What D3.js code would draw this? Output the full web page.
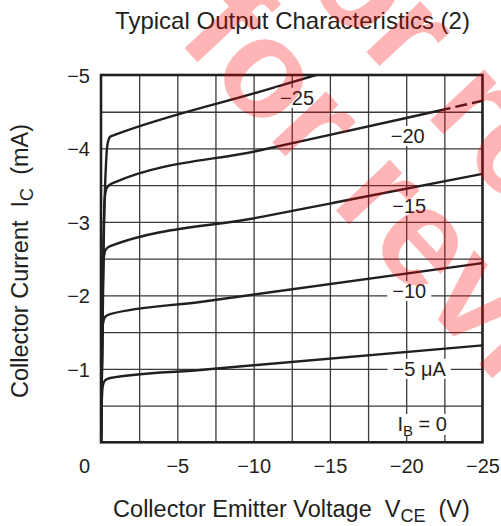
<!DOCTYPE html>
<html>
<head>
<meta charset="utf-8">
<script src="https://cdn.jsdelivr.net/npm/d3@7"></script>
<style>
  html, body { margin: 0; padding: 0; background: #fff; }
  svg { display: block; }
  text { font-family: "Liberation Sans", Arial, Helvetica, sans-serif; fill: #231f20; }
</style>
</head>
<body>
<svg id="chart" width="501" height="526"></svg>
<script>
// ---- data ----
const titleText = "Typical Output Characteristics (2)";
const xTicks = [0, -5, -10, -15, -20, -25];
const yTicks = [-1, -2, -3, -4, -5];
const xGrid = [-2.5, -5, -7.5, -10, -12.5, -15, -17.5, -20, -22.5];
const yGrid = [-0.5, -1, -1.5, -2, -2.5, -3, -3.5, -4, -4.5];

// collector-emitter voltage (V) / collector current (mA) per base current
const ib5V  = [0, -0.06, -0.13, -0.28, -0.6, -6.5, -25];
const ib5I  = [0, -0.6, -0.78, -0.846, -0.875, -0.985, -1.32];
const ib10V = [0, -0.08, -0.12, -0.28, -0.6, -6.5, -25];
const ib10I = [0, -1.3, -1.6, -1.71, -1.745, -1.91, -2.44];
const ib15V = [0, -0.12, -0.18, -0.3, -0.6, -10.43, -15, -25];
const ib15I = [0, -2.2, -2.5, -2.62, -2.67, -3.065, -3.25, -3.655];
const ib20V = [0, -0.15, -0.24, -0.35, -0.6, -0.85, -10.43, -20, -22.9];
const ib20I = [0, -2.6, -3.3, -3.45, -3.51, -3.535, -3.975, -4.415, -4.55];
const ib20DashV = [-22.9, -25];
const ib20DashI = [-4.55, -4.65];
const ib25V = [0, -0.2, -0.33, -0.42, -0.6, -0.85, -10.43, -14.1];
const ib25I = [0, -3.0, -3.8, -4.05, -4.16, -4.18, -4.775, -5.0];
const ib0V  = [0, -25];
const ib0I  = [0, 0];

const curveLabels = ["−25", "−20", "−15", "−10", "−5 μA"];
const labelV = [-12.85, -20.1, -20.2, -20.2, -20.85];
const labelI = [-4.69, -4.17, -3.22, -2.06, -1.00];

// ---- layout ----
const svg = d3.select("#chart");
const pL = 101, pR = 482.5, pT = 75, pB = 442.3;
const x = d3.scaleLinear().domain([0, -25]).range([pL, pR]);
const y = d3.scaleLinear().domain([0, -5]).range([pB, pT]);
const fmt = v => v === 0 ? "0" : "−" + Math.abs(v);
const NB = "\u00A0";

svg.append("defs").append("clipPath").attr("id", "plotClip")
  .append("rect").attr("x", pL).attr("y", pT).attr("width", pR - pL).attr("height", pB - pT);

// title
svg.append("text").attr("x", 292.5).attr("y", 28.5).attr("text-anchor", "middle")
  .style("font-size", "24px").text(titleText);

// grid
const grid = svg.append("g");
grid.append("g").attr("transform", `translate(0,${pB})`)
  .call(d3.axisBottom(x).tickValues(xGrid).tickSize(-(pB - pT)).tickFormat(""))
  .call(g => g.select(".domain").remove())
  .call(g => g.selectAll("line").attr("stroke", "#3a3a3a").attr("stroke-width", 1.3));
grid.append("g").attr("transform", `translate(${pL},0)`)
  .call(d3.axisLeft(y).tickValues(yGrid).tickSize(-(pR - pL)).tickFormat(""))
  .call(g => g.select(".domain").remove())
  .call(g => g.selectAll("line").attr("stroke", "#3a3a3a").attr("stroke-width", 1.3));

// tick labels
const xAxis = svg.append("g").attr("transform", `translate(0,${pB})`)
  .call(d3.axisBottom(x).tickValues(xTicks).tickSize(0).tickPadding(0).tickFormat(fmt));
xAxis.select(".domain").remove();
xAxis.selectAll("text").attr("y", 31).attr("dy", 0)
  .style("font-size", "20px").style("font-family", "Liberation Sans, Arial, sans-serif").attr("fill", "#231f20")
  .attr("dx", d => d === 0 ? -17 : 0);

const yAxis = svg.append("g").attr("transform", `translate(${pL},0)`)
  .call(d3.axisLeft(y).tickValues(yTicks).tickSize(0).tickPadding(0).tickFormat(fmt));
yAxis.select(".domain").remove();
yAxis.selectAll("text").attr("x", -11).attr("dy", "0.36em")
  .style("font-size", "20px").style("font-family", "Liberation Sans, Arial, sans-serif").attr("fill", "#231f20");

// curves
const line = d3.line().x(d => x(d[0])).y(d => y(d[1])).curve(d3.curveMonotoneX);
const series = [
  [ib0V, ib0I], [ib5V, ib5I], [ib10V, ib10I], [ib15V, ib15I], [ib20V, ib20I], [ib25V, ib25I]
];
const curves = svg.append("g").attr("clip-path", "url(#plotClip)");
series.forEach(([vs, is]) => {
  curves.append("path").datum(vs.map((v, i) => [v, is[i]]))
    .attr("d", line).attr("fill", "none").attr("stroke", "#231f20")
    .attr("stroke-width", 2.4).attr("stroke-linejoin", "round");
});
curves.append("path").datum(ib20DashV.map((v, i) => [v, ib20DashI[i]]))
  .attr("d", d3.line().x(d => x(d[0])).y(d => y(d[1])))
  .attr("fill", "none").attr("stroke", "#231f20").attr("stroke-width", 2.4)
  .attr("stroke-dasharray", "0,5,12,5,12");

// frame
svg.append("rect").attr("x", pL).attr("y", pT).attr("width", pR - pL).attr("height", pB - pT)
  .attr("fill", "none").attr("stroke", "#231f20").attr("stroke-width", 2.6);

// curve labels with white knock-out
const lab = svg.append("g");
curveLabels.forEach((t, i) => {
  const g = lab.append("g");
  const txt = g.append("text").attr("x", x(labelV[i])).attr("y", y(labelI[i])).attr("dy", "0.36em")
    .attr("text-anchor", "middle").style("font-size", "20px").text(t);
  const w = txt.node().getComputedTextLength();
  g.insert("rect", "text").attr("x", x(labelV[i]) - w / 2 - 5).attr("y", y(labelI[i]) - 10)
    .attr("width", w + 10).attr("height", 20).attr("fill", "#fff");
});
// I_B = 0 label
{
  const g = lab.append("g");
  const cx = x(-21.05), cy = y(-0.25);
  const rect = g.append("rect").attr("fill", "#fff");
  const t = g.append("text").attr("x", cx).attr("y", cy).attr("dy", "0.36em").attr("text-anchor", "middle")
    .style("font-size", "20px");
  t.append("tspan").text("I");
  t.append("tspan").attr("dy", 5).style("font-size", "15px").text("B");
  t.append("tspan").attr("dy", -5).text(NB + "=" + NB + "0");
  const w = t.node().getComputedTextLength();
  rect.attr("x", cx - w / 2 - 4).attr("y", cy - 10).attr("width", w + 8).attr("height", 21);
}

// axis titles
const xt = svg.append("text").attr("x", 291.5).attr("y", 517).attr("text-anchor", "middle")
  .style("font-size", "23.5px");
xt.append("tspan").text("Collector Emitter Voltage" + NB + NB + "V");
xt.append("tspan").attr("dy", 5).style("font-size", "18px").text("CE");
xt.append("tspan").attr("dy", -5).text(NB + NB + "(V)");

const yt = svg.append("text").attr("transform", "translate(28,261) rotate(-90)").attr("text-anchor", "middle")
  .style("font-size", "23.5px");
yt.append("tspan").text("Collector Current" + NB + NB + "I");
yt.append("tspan").attr("dy", 5).style("font-size", "18px").text("C");
yt.append("tspan").attr("dy", -5).text(NB + NB + "(mA)");

// watermark
const wm = svg.append("g").style("pointer-events", "none");
[["for review", 175.4, 38.4], ["for review", 269.6, -51.9]].forEach(([t, ox, oy]) => {
  wm.append("text").attr("transform", `translate(${ox},${oy}) rotate(47)`)
    .style("font-size", "140px").style("font-weight", "bold")
    .style("fill", "rgb(255,0,0)").style("fill-opacity", 0.29).text(t);
});
</script>
</body>
</html>
